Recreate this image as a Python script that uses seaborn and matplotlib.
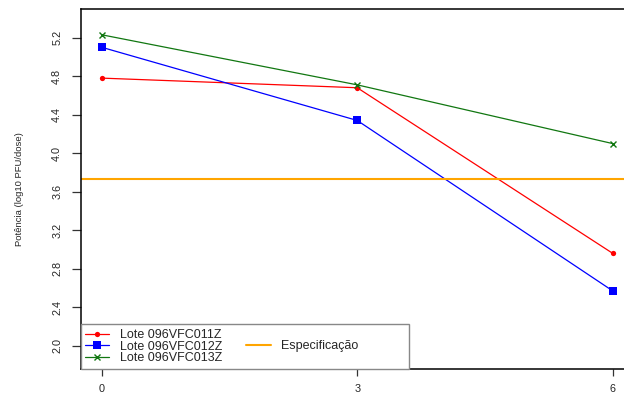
import matplotlib
matplotlib.use("Agg")
import matplotlib.pyplot as plt
from matplotlib.patches import Rectangle
import seaborn as sns
import pandas as pd

# Stability data: potency (log10 PFU/dose) per lot over months
meses = [0, 3, 6]
lote_011 = [4.78, 4.68, 2.96]
lote_012 = [5.10, 4.34, 2.57]
lote_013 = [5.23, 4.71, 4.10]
especificacao = 3.73
nomes = ["Lote 096VFC011Z", "Lote 096VFC012Z", "Lote 096VFC013Z"]
y_ticks = [2.0, 2.4, 2.8, 3.2, 3.6, 4.0, 4.4, 4.8, 5.2]

sns.set_style("white")
plt.rcParams["font.family"] = ["Liberation Sans", "DejaVu Sans"]

df = pd.DataFrame({
    "Mês": meses * 3,
    "Potência": lote_011 + lote_012 + lote_013,
    "Lote": [n for n in nomes for _ in meses],
})

fig = plt.figure(figsize=(6.24, 3.96), dpi=100)
ax = fig.add_axes([81 / 624, 27 / 396, 552.5 / 624, 359.7 / 396])

estilos = {
    nomes[0]: dict(color="#ff0000", marker="o", markersize=3.8,
                   markeredgewidth=0, markeredgecolor="#ff0000"),
    nomes[1]: dict(color="#0000ff", marker="s", markersize=5.6,
                   markeredgewidth=0, markeredgecolor="#0000ff"),
    nomes[2]: dict(color="#117711", marker="x", markersize=5.0,
                   markeredgewidth=1.0, markeredgecolor="#117711"),
}
for nome in nomes:
    sub = df[df["Lote"] == nome]
    sns.lineplot(data=sub, x="Mês", y="Potência", ax=ax, label=nome,
                 linewidth=0.9, legend=False, **estilos[nome])

ax.axhline(especificacao, color="#ffa500", linewidth=1.5, label="Especificação")

ax.set_xlim(-0.245, 6.245)
ax.set_ylim(1.758, 5.495)
ax.set_xticks(meses)
ax.set_xticklabels([str(m) for m in meses])
ax.set_yticks(y_ticks)
ax.set_yticklabels([f"{v:.1f}" for v in y_ticks], rotation=90, va="center")
ax.tick_params(axis="y", direction="out", length=6.5, width=0.9, pad=7,
               labelsize=7.8, color="#333333", left=True)
ax.tick_params(axis="x", direction="out", length=5, width=0.9, pad=6,
               labelsize=7.8, color="#333333", bottom=True)

for lado in ["left", "top", "bottom"]:
    ax.spines[lado].set_color("black")
    ax.spines[lado].set_linewidth(1.1)
ax.spines["right"].set_visible(False)

ax.set_xlabel("")
ax.set_ylabel("Potência (log10 PFU/dose)", fontsize=6.8)
ax.yaxis.set_label_coords(-0.104, 0.5)

# legend box in the lower-left corner
ax.add_patch(Rectangle((0, 0), 328 / 552.5, 45 / 359.7, transform=ax.transAxes,
                       facecolor="white", edgecolor="#888888", linewidth=1.0,
                       zorder=3, clip_on=False))
h, l = ax.get_legend_handles_labels()
vazio = Rectangle((0, 0), 1, 1, fill=False, edgecolor="none", visible=False)
handles = [h[0], h[1], h[2], vazio, h[3], vazio]
labels = [l[0], l[1], l[2], "", l[3], ""]
leg = ax.legend(handles, labels, ncol=2, loc="upper left",
                bbox_to_anchor=(4 / 552.5, 40 / 359.7), frameon=False,
                fontsize=9, handlelength=1.95, handletextpad=0.85,
                columnspacing=1.9, labelspacing=-0.04, borderpad=0,
                borderaxespad=0)
leg.set_zorder(4)

fig.savefig("out.png", dpi=100)
